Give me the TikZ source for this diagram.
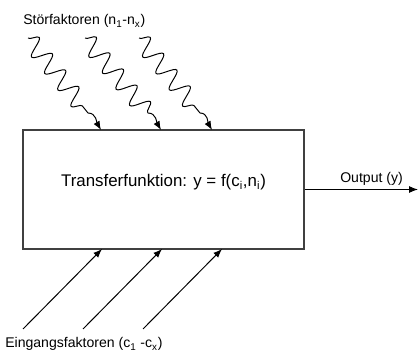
\documentclass[tikz,border=0pt]{standalone}
\usepackage{fontspec}
\setmainfont{Liberation Sans}
\usetikzlibrary{arrows.meta, positioning, decorations.pathmorphing}

\begin{document}
\begin{tikzpicture}[
        x=0.025cm, y=0.025cm,
        box/.style={rectangle, draw=black!75, line width=0.9pt, minimum width=7.025cm, minimum height=2.975cm, inner sep=0pt, font=\fontsize{12}{14}\selectfont, text height=9pt, text depth=12.6pt},
        lbl/.style={font=\fontsize{10}{12}\selectfont, inner sep=0pt},
        arrow/.style={-{Latex[length=2.2mm, width=1.7mm]}, line width=0.7pt},
        wave/.style={decoration={snake, amplitude=6.5pt, segment length=15pt}}
    ]
    \useasboundingbox (0,0) rectangle (419,360);
    % Nodes
    \node (tf) [box] at (163.5,170.5) {Transferfunktion: y = f(c\textsubscript{i},n\textsubscript{i})};
    \node (stoer) [lbl, anchor=base west] at (23,335) {Störfaktoren (n\textsubscript{1}-n\textsubscript{x})};
    \node (eing) [lbl, anchor=base west] at (5,12) {Eingangsfaktoren (c\textsubscript{1} -c\textsubscript{x})};
    \coordinate (out) at (418,170.5);

    % Stoerfaktoren (wavy arrows)
    \foreach \i/\sx/\mx/\tx in {1/28/88/101, 2/85/148/161, 3/139/200/212} {
        \coordinate (s\i) at (\sx,322);
        \coordinate (m\i) at (\mx,247);
        \coordinate (t\i) at (\tx,230);
        \draw [arrow] decorate[wave] {(s\i) -- (m\i)} to[out=0, in=120] (t\i);
    }

    % Eingangsfaktoren
    \foreach \i/\x in {1/23, 2/83, 3/143} {
        \coordinate (c\i) at (\x,31);
        \draw [arrow] (c\i) -- ++(79,80);
    }

    % Output
    \draw [arrow] (tf.east) -- node[lbl, above=2.5pt, pos=0.59] {Output (y)} (out);
\end{tikzpicture}
\end{document}
